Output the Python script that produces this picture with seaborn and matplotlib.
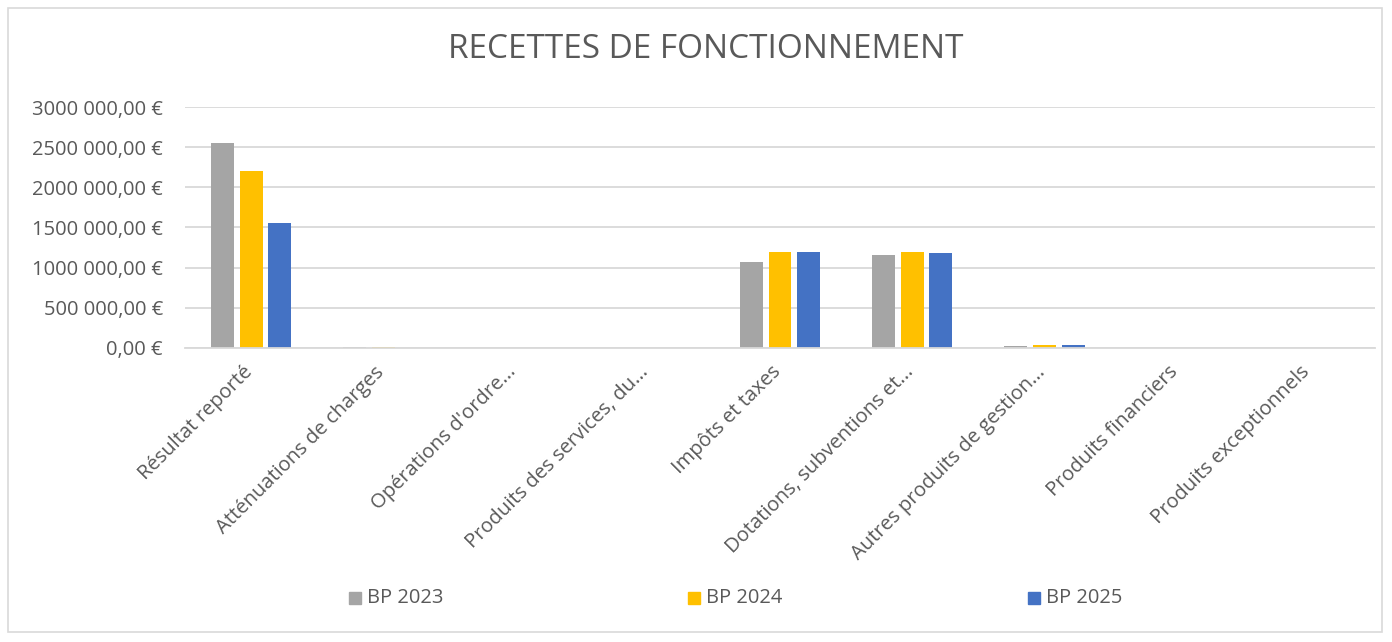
import matplotlib
matplotlib.use("Agg")
import matplotlib.pyplot as plt
import matplotlib.transforms as mtransforms
import seaborn as sns
import pandas as pd
from matplotlib.ticker import FuncFormatter

categories = ["Résultat reporté", "Atténuations de charges", "Opérations d'ordre...",
              "Produits des services, du...", "Impôts et taxes", "Dotations, subventions et...",
              "Autres produits de gestion...", "Produits financiers", "Produits exceptionnels"]
series_names = ["BP 2023", "BP 2024", "BP 2025"]
bp2023 = [2553000, 12000, 0, 3000, 1071000, 1152000, 20000, 0, 0]
bp2024 = [2198000, 18000, 0, 3000, 1190000, 1200000, 38000, 0, 0]
bp2025 = [1557000, 5000, 0, 3000, 1190000, 1180000, 38000, 0, 0]
colors = ["#A5A5A5", "#FFC000", "#4472C4"]

rows = []
for name, vals in zip(series_names, [bp2023, bp2024, bp2025]):
    for c, v in zip(categories, vals):
        rows.append({"cat": c, "serie": name, "val": v})
df = pd.DataFrame(rows)

sns.set_theme(style="white")
plt.rcParams['font.family'] = ['Open Sans', 'DejaVu Sans']
txt = "#595959"

fig = plt.figure(figsize=(13.92, 6.42), dpi=100)
ax = fig.add_axes([185/1392, 1 - 348/642, (1375 - 185)/1392, (348 - 107)/642])

sns.barplot(data=df, x="cat", y="val", hue="serie", palette=colors, order=categories,
            hue_order=series_names, width=0.65, gap=0.2, ax=ax, legend=False,
            saturation=1, linewidth=0)

ax.set_ylim(0, 3000000)
ax.set_yticks(range(0, 3000001, 500000))
def fmt(v, pos):
    v = int(round(v))
    if v == 0:
        return "0,00 €"
    th = v // 1000
    return f"{th} 000,00 €"
ax.yaxis.set_major_formatter(FuncFormatter(fmt))
ax.grid(axis="y", color="#D9D9D9", linewidth=1.3)
ax.set_axisbelow(True)
for s in ["top", "right", "left"]:
    ax.spines[s].set_visible(False)
ax.spines["bottom"].set_color("#D9D9D9")
ax.spines["bottom"].set_linewidth(1.3)
ax.set_xlabel("")
ax.set_ylabel("")
ax.tick_params(axis="y", labelsize=14.5, labelcolor=txt, length=0, pad=16)
ax.tick_params(axis="x", labelsize=14.5, labelcolor=txt, length=0, pad=8)
offset = mtransforms.ScaledTranslation(-9/100, -3/100, fig.dpi_scale_trans)
for lab in ax.get_xticklabels():
    lab.set_rotation(45)
    lab.set_ha("right")
    lab.set_rotation_mode("anchor")
    lab.set_transform(lab.get_transform() + offset)
ax.set_xlim(-0.5, len(categories) - 0.5)

fig.text(706/1392, 1 - 50/642, "RECETTES DE FONCTIONNEMENT", ha="center", va="center",
         fontsize=24, color=txt, fontweight="normal")

for i, (name, col) in enumerate(zip(series_names, colors)):
    x0 = [355, 694, 1034][i] / 1392
    y0 = 1 - 598/642
    fig.patches.append(plt.Rectangle((x0 - 6/1392, y0 - 6/642), 12/1392, 12/642,
                                     transform=fig.transFigure, color=col, figure=fig))
    fig.text(x0 + 12/1392, y0, name, ha="left", va="center", fontsize=14.5, color=txt)

fig.patches.append(plt.Rectangle((8/1392, 1 - 632/642), 1374/1392, 624/642,
                                 transform=fig.transFigure, fill=False,
                                 edgecolor="#D9D9D9", linewidth=1.2, figure=fig))

fig.savefig("out.png", dpi=100, facecolor="white")
